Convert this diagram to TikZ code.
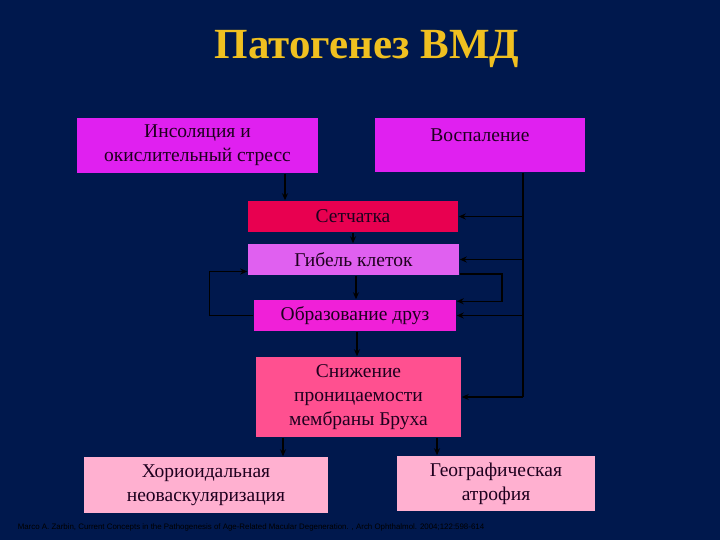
\documentclass[tikz,border=0pt]{standalone}
\usepackage{fontspec}
\setmainfont{Liberation Serif}
\newfontfamily\footfont{Liberation Sans}
\usetikzlibrary{calc, arrows.meta}

\definecolor{navy}{RGB}{0,24,77}
\definecolor{gold}{RGB}{240,192,32}
\definecolor{violet1}{RGB}{224,32,240}
\definecolor{crimson1}{RGB}{232,0,80}
\definecolor{orchid1}{RGB}{224,96,240}
\definecolor{pinkmag}{RGB}{240,32,216}
\definecolor{hotpink1}{RGB}{255,80,144}
\definecolor{lightpink1}{RGB}{255,176,208}
\definecolor{inktext}{RGB}{30,0,30}

\tikzset{
  box/.style={inner sep=3pt, align=center, text=inktext,
    font=\fontsize{19.5}{24}\selectfont},
}

\begin{document}
\begin{tikzpicture}[x=1pt, y=-1pt, line width=1.5pt, >={Stealth[length=7pt, width=6pt]}]
  \fill[navy] (0,0) rectangle (720,540);
  \useasboundingbox (0,0) rectangle (720,540);

  % заголовок
  \node[text=gold, font=\fontsize{43}{50}\selectfont\bfseries] (title) at (367,49) {Патогенез ВМД};

  % блоки
  \node[box, fill=violet1, minimum width=241, minimum height=55] (insol) at (197.5,145.5) {Инсоляция и\\окислительный стресс};
  \node[box, fill=violet1, minimum width=210, minimum height=54, text depth=20pt] (vosp) at (480,145) {Воспаление};
  \node[box, fill=crimson1, minimum width=210, minimum height=31] (setch) at (353,216.5) {Сетчатка};
  \node[box, fill=orchid1, minimum width=211, minimum height=31] (gibel) at (353.5,259.5) {Гибель клеток};
  \node[box, fill=pinkmag, minimum width=202, minimum height=31] (obraz) at (355,315.5) {Образование друз};
  \node[box, fill=hotpink1, minimum width=205, minimum height=80] (snizh) at (358.5,397) {Снижение\\проницаемости\\мембраны Бруха};
  \node[box, fill=lightpink1, minimum width=244, minimum height=56] (chor) at (206,485) {Хориоидальная\\неоваскуляризация};
  \node[box, fill=lightpink1, minimum width=198, minimum height=55] (geo) at (496,483.5) {Географическая\\атрофия};

  \coordinate (iS) at ([xshift=87.5]insol.south);
  \coordinate (vS) at ([xshift=43]vosp.south);
  \coordinate (sL) at ([xshift=-75.5]snizh.south);
  \coordinate (sR) at ([xshift=78.5]snizh.south);

  % стрелки
  \draw[->] (iS) -- (iS |- setch.north);
  \draw[->] (setch.south) -- (setch.south |- gibel.north);
  \draw[->] ([xshift=2.5]gibel.south) -- ([xshift=2.5]gibel.south |- obraz.north);
  \draw[->] ([xshift=2]obraz.south) -- ([xshift=2]obraz.south |- snizh.north);

  \draw (vS) -- (vS |- snizh.east);
  \foreach \n in {setch, gibel, obraz, snizh}
    \draw[->] (vS |- \n.east) -- (\n.east);

  \draw[->] ([yshift=2]gibel.south east) -- ++(42,0) |- ([yshift=-2]obraz.north east);
  \draw[->] (obraz.west) -- ++(-44,0) |- ([yshift=-12]gibel.west);

  \draw[->] (sL) -- (sL |- chor.north);
  \draw[->] (sR) -- (sR |- geo.north);

  % ссылка
  \node[anchor=west, inner sep=0pt, text=black, font=\footfont\fontsize{7.9}{9}\selectfont] (ref) at (17,527)
    {Marco A. Zarbin, Current Concepts in the Pathogenesis of Age-Related Macular Degeneration. , Arch Ophthalmol. 2004;122:598-614};
\end{tikzpicture}
\end{document}
